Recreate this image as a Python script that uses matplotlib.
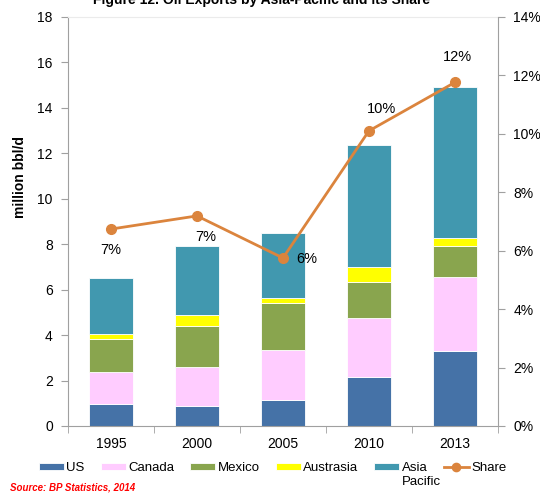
import numpy as np
import matplotlib.pyplot as plt

years = ['1995', '2000', '2005', '2010', '2013']
us = [0.97, 0.88, 1.14, 2.17, 3.30]
canada = [1.41, 1.72, 2.20, 2.60, 3.27]
mexico = [1.45, 1.80, 2.07, 1.58, 1.37]
austrasia = [0.22, 0.49, 0.22, 0.63, 0.33]
asia_pacific = [2.46, 3.03, 2.86, 5.39, 6.65]
share = [6.74, 7.19, 5.75, 10.1, 11.76]
share_labels = ['7%', '7%', '6%', '10%', '12%']

series = [('US', us, '#4572A7'), ('Canada', canada, '#FFCCFF'),
          ('Mexico', mexico, '#89A54E'), ('Austrasia', austrasia, '#FFFF00'),
          ('Asia', asia_pacific, '#4198AF')]

plt.rcParams['font.family'] = ['Liberation Sans', 'DejaVu Sans']

fig = plt.figure(figsize=(5.4, 4.98), dpi=100)
ax = fig.add_axes([0.126, 0.1446, 0.796, 0.8214])
x = np.arange(len(years))
bottom = np.zeros(len(years))
handles = []
for name, vals, col in series:
    b = ax.bar(x, vals, 0.52, bottom=bottom, color=col, edgecolor='white',
               linewidth=0.6, label=name)
    handles.append(b)
    bottom += np.array(vals)

ax.set_xlim(-0.5, 4.5)
ax.set_ylim(0, 18)
ax.set_yticks(range(0, 19, 2))
ax.set_xticks(x)
ax.set_xticklabels(years)
ax.set_xticks(np.arange(-0.5, 5, 1), minor=True)
ax.tick_params(axis='x', which='major', length=0, pad=8, labelsize=10)
ax.tick_params(axis='x', which='minor', length=5, color='#A0A0A0', direction='out')
ax.tick_params(axis='y', length=5, color='#A0A0A0', labelsize=10, pad=6)
ax.set_ylabel('million bbl/d', fontsize=10, fontweight='bold')
ax.yaxis.set_label_coords(-0.095, 0.609)
for s in ['left', 'bottom']:
    ax.spines[s].set_color('#A0A0A0')
ax.spines['top'].set_color('#EBEBEB')
ax.spines['right'].set_visible(False)

ax2 = ax.twinx()
ax2.set_ylim(0, 14)
ax2.set_yticks(range(0, 15, 2))
ax2.set_yticklabels([f'{v}%' for v in range(0, 15, 2)])
ax2.tick_params(axis='y', length=5, color='#A0A0A0', labelsize=10, pad=6)
ax2.spines['right'].set_color('#A0A0A0')
for s in ['left', 'top', 'bottom']:
    ax2.spines[s].set_visible(False)
line, = ax2.plot(x, share, color='#DB843D', lw=2, marker='o', ms=7, label='Share')

offsets = [(0, -15), (6, -15), (17, -1), (9, 16), (2, 18)]
for xi, yi, lab, off in zip(x, share, share_labels, offsets):
    ax2.annotate(lab, (xi, yi), xytext=off, textcoords='offset points',
                 ha='center', va='center', fontsize=10.5)

leg = fig.legend(handles + [line], [s[0] for s in series] + ['Share'],
                 loc='center', bbox_to_anchor=(0.505, 0.06), ncol=6, frameon=False,
                 fontsize=9.5, handlelength=1.9, handleheight=0.5, columnspacing=1.2,
                 handletextpad=0.2, markerscale=0.85)

# second line of the "Asia Pacific" legend label
fig.canvas.draw()
bb = leg.get_texts()[4].get_window_extent().transformed(fig.transFigure.inverted())
fig.text(bb.x0, bb.y0 - 0.004, 'Pacific', ha='left', va='top', fontsize=9.5)

fig.text(0.485, 1 - 4 / 498, 'Figure 12. Oil Exports by Asia-Pacific and its Share',
         ha='center', va='baseline', fontsize=10, fontweight='bold')
fig.text(0.018, 0.015, 'Source: BP Statistics, 2014', color='red',
         fontsize=7, fontstyle='italic', fontweight='bold')

fig.savefig('out.png', dpi=100)
